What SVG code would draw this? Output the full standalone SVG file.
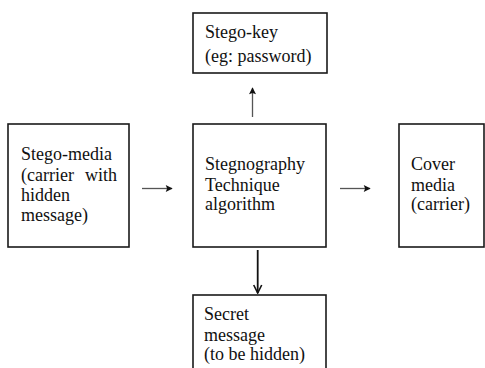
<svg xmlns="http://www.w3.org/2000/svg" width="485" height="368" viewBox="0 0 485 368">
  <style>
    .box { fill: #ffffff; stroke: #1a1a1a; stroke-width: 1.6; }
    .lbl { font-family: "Liberation Serif", "Times New Roman", serif; font-size: 18px; fill: #111111; }
    .thin { stroke: #555555; stroke-width: 1.3; fill: none; }
    .bold { stroke: #111111; stroke-width: 1.8; fill: none; }
  </style>
  <defs>
    <marker id="headFill" viewBox="0 0 10 10" refX="9" refY="5" markerWidth="8" markerHeight="7" markerUnits="userSpaceOnUse" orient="auto">
      <path d="M0,0 L10,5 L0,10 L2,5 Z" fill="#111111"/>
    </marker>
    <marker id="headOpen" viewBox="0 0 10 10" refX="9" refY="5" markerWidth="10" markerHeight="12" markerUnits="userSpaceOnUse" orient="auto">
      <path d="M1,1 L9,5 L1,9" fill="none" stroke="#111111" stroke-width="1.6"/>
    </marker>
  </defs>

  <rect width="485" height="368" fill="#ffffff"/>

  <g id="stego-key">
    <rect class="box" x="193" y="13" width="134" height="60"/>
    <text class="lbl" x="205" y="38">Stego-key</text>
    <text class="lbl" x="205" y="62">(eg: password)</text>
  </g>

  <g id="stego-media">
    <rect class="box" x="8" y="124" width="121" height="123"/>
    <text class="lbl" x="21" y="160">Stego-media</text>
    <text class="lbl" x="21" y="181">(carrier</text>
    <text class="lbl" x="117" y="181" text-anchor="end">with</text>
    <text class="lbl" x="21" y="201">hidden</text>
    <text class="lbl" x="21" y="221">message)</text>
  </g>

  <g id="technique">
    <rect class="box" x="193" y="124" width="133" height="123"/>
    <text class="lbl" x="205" y="170">Stegnography</text>
    <text class="lbl" x="205" y="191">Technique</text>
    <text class="lbl" x="205" y="210">algorithm</text>
  </g>

  <g id="cover-media">
    <rect class="box" x="399" y="124" width="85" height="123"/>
    <text class="lbl" x="411" y="170">Cover</text>
    <text class="lbl" x="411" y="191">media</text>
    <text class="lbl" x="411" y="210">(carrier)</text>
  </g>

  <g id="secret-message">
    <rect class="box" x="193" y="295" width="133" height="80"/>
    <text class="lbl" x="204" y="320">Secret</text>
    <text class="lbl" x="204" y="341">message</text>
    <text class="lbl" x="204" y="360">(to be hidden)</text>
  </g>

  <g id="connectors">
    <line class="thin" x1="142" y1="188.5" x2="172" y2="188.5" marker-end="url(#headFill)"/>
    <line class="thin" x1="340" y1="188.5" x2="370" y2="188.5" marker-end="url(#headFill)"/>
    <line class="thin" x1="252.5" y1="117" x2="252.5" y2="88" marker-end="url(#headFill)"/>
    <line class="bold" x1="257.7" y1="250" x2="257.7" y2="293" marker-end="url(#headOpen)"/>
  </g>
</svg>
